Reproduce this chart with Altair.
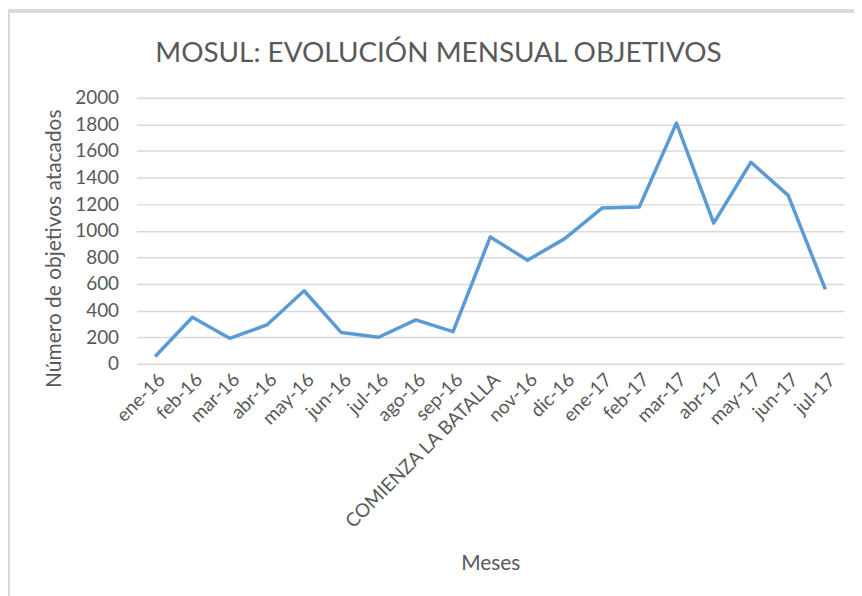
import altair as alt
import pandas as pd

meses = ["ene-16", "feb-16", "mar-16", "abr-16", "may-16", "jun-16", "jul-16",
         "ago-16", "sep-16", "COMIENZA LA BATALLA", "nov-16", "dic-16",
         "ene-17", "feb-17", "mar-17", "abr-17", "may-17", "jun-17", "jul-17"]
objetivos = [55, 350, 192, 292, 549, 235, 200, 330, 242, 954, 779, 941,
             1171, 1178, 1810, 1058, 1515, 1266, 559]

df = pd.DataFrame({"mes": meses, "valor": objetivos})

FONT = "Lato"
GRAY = "#595959"

base = alt.Chart(df)

line = base.mark_line(color="#5b9bd5", strokeWidth=3.5, strokeJoin="round").encode(
    x=alt.X("mes:N", sort=meses, title="Meses",
            scale=alt.Scale(type="point", padding=0.5),
            axis=alt.Axis(labelAngle=-45, labelFontSize=19, labelColor=GRAY,
                          labelFont=FONT, titleFont=FONT, titleFontSize=21,
                          titleColor=GRAY, titleFontWeight="normal",
                          domain=False, ticks=False, grid=False, labelLimit=400,
                          labelPadding=6, titlePadding=20)),
    y=alt.Y("valor:Q", title="Número de objetivos atacados",
            scale=alt.Scale(domain=[0, 2000], nice=False),
            axis=alt.Axis(values=list(range(0, 2001, 200)), format="d",
                          labelFontSize=19,
                          labelColor=GRAY, labelFont=FONT, titleFont=FONT,
                          titleFontSize=21, titleColor=GRAY, titleY=151,
                          titleFontWeight="normal", domain=False, ticks=False,
                          gridColor="#d9d9d9", gridWidth=1.5,
                          labelPadding=18, titlePadding=10)),
)

frame_top = alt.Chart(df).mark_rule(color="#d9d9d9", strokeWidth=2.5, clip=False).encode(
    x=alt.value(-129), x2=alt.value(760), y=alt.value(-87))
frame_left = alt.Chart(df).mark_rule(color="#d9d9d9", strokeWidth=2.5, clip=False).encode(
    x=alt.value(-129), y=alt.value(-87), y2=alt.value(520))

chart = alt.layer(frame_top, frame_left, line).properties(
    width=710, height=267,
    title=alt.Title("MOSUL: EVOLUCIÓN MENSUAL OBJETIVOS", font=FONT, fontSize=28,
                    fontWeight="normal", color=GRAY, anchor="middle",
                    frame="group", dx=-52, offset=-58),
    autosize=alt.AutoSizeParams(type="none"),
    padding={"left": 129, "top": 89, "right": 10, "bottom": 250},
).configure_view(stroke=None)

chart.save("out.html", embed_options={"renderer": "svg", "actions": False})
